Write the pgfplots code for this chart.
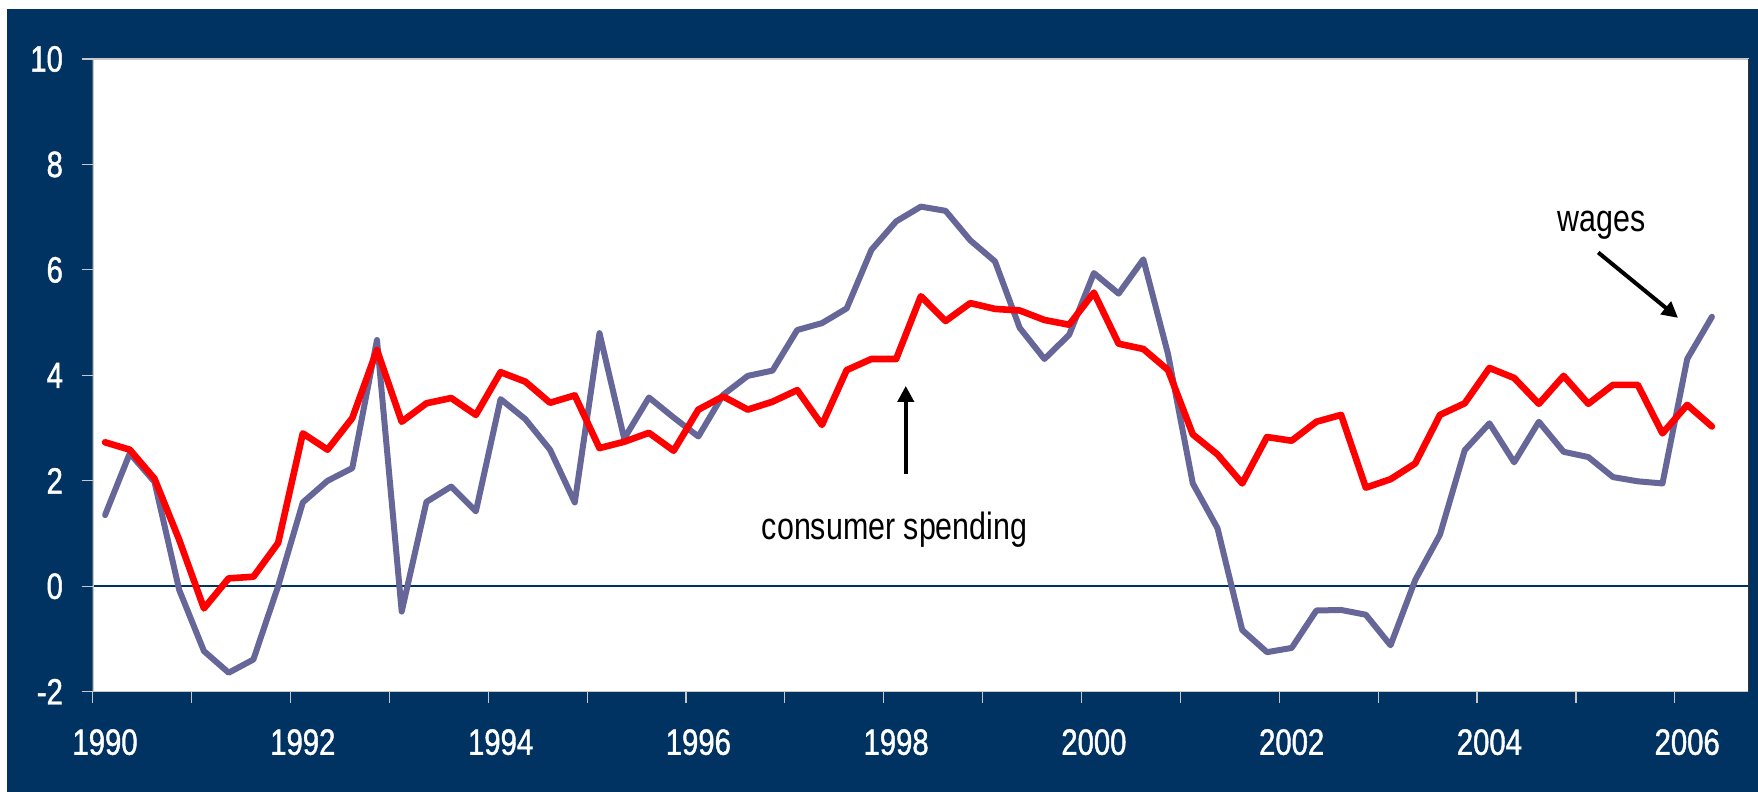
\documentclass[border=0pt]{standalone}
\usepackage{fontspec}
\setmainfont[FakeStretch=0.8]{Liberation Sans}
\newfontfamily\tickfont[FakeStretch=0.8, FakeBold=1.2]{Liberation Sans}
\usepackage{pgfplots}
\usepackage{pgfplotstable}
\pgfplotsset{compat=1.18}
\usetikzlibrary{arrows.meta}
\definecolor{navy}{RGB}{0,51,98}
\definecolor{wagecol}{RGB}{102,102,153}
\definecolor{spendred}{RGB}{255,0,0}
\definecolor{tickgray}{RGB}{200,200,200}

\pgfplotstableread{
i wages spend
0 1.35 2.73
1 2.52 2.59
2 1.98 2.04
3 -0.07 0.88
4 -1.23 -0.42
5 -1.64 0.15
6 -1.39 0.18
7 0.00 0.82
8 1.59 2.90
9 2.00 2.59
10 2.24 3.19
11 4.67 4.48
12 -0.48 3.12
13 1.60 3.47
14 1.89 3.57
15 1.42 3.25
16 3.55 4.06
17 3.17 3.88
18 2.59 3.48
19 1.59 3.62
20 4.80 2.62
21 2.80 2.74
22 3.58 2.91
23 3.20 2.57
24 2.84 3.35
25 3.63 3.60
26 3.99 3.35
27 4.09 3.50
28 4.86 3.72
29 4.99 3.06
30 5.27 4.10
31 6.38 4.31
32 6.92 4.31
33 7.20 5.50
34 7.12 5.03
35 6.56 5.37
36 6.16 5.26
37 4.90 5.23
38 4.31 5.05
39 4.77 4.96
40 5.94 5.57
41 5.55 4.60
42 6.20 4.50
43 4.40 4.10
44 1.95 2.88
45 1.10 2.50
46 -0.83 1.95
47 -1.25 2.83
48 -1.17 2.76
49 -0.46 3.12
50 -0.45 3.25
51 -0.54 1.87
52 -1.12 2.03
53 0.12 2.33
54 0.98 3.25
55 2.58 3.47
56 3.09 4.14
57 2.35 3.95
58 3.12 3.46
59 2.55 3.99
60 2.45 3.46
61 2.07 3.82
62 1.99 3.82
63 1.95 2.90
64 4.31 3.44
65 5.11 3.03
}\datatable

\begin{document}
\begin{tikzpicture}
\useasboundingbox (0,0) rectangle (879bp,396bp);
\fill[white] (0,0) rectangle (879bp,396bp);
\fill[navy] (3.5bp,0) rectangle (879bp,391.5bp);
\begin{axis}[
  at={(46.35bp,50.15bp)}, anchor=south west,
  scale only axis, width=828.15bp, height=316.35bp,
  xmin=-0.5, xmax=66.5, ymin=-2, ymax=10,
  axis background/.style={fill=white},
  axis line style={draw=none},
  no markers,
  tick align=outside,
  xtick pos=bottom, ytick pos=left,
  major tick length=5.5bp,
  tick style={tickgray, line width=0.6bp},
  xtick={-0.5,3.5,...,63.5},
  xticklabels={},
  extra x ticks={0,8,...,64},
  extra x tick labels={1990,1992,1994,1996,1998,2000,2002,2004,2006},
  extra x tick style={major tick length=0pt},
  ytick={-2,0,...,10},
  yticklabels={-2,0,2,4,6,8,10},
  extra y ticks={0},
  extra y tick labels={},
  extra y tick style={grid=major, major grid style={navy, line width=1bp}},
  tick label style={font=\tickfont\fontsize{18.3bp}{20bp}\selectfont, text=white},
  xticklabel style={anchor=north, inner sep=0pt, yshift=-18.55bp},
  yticklabel style={anchor=east, inner sep=0pt, xshift=-9.2bp},
]
\addplot[wagecol, line width=3bp, line join=round, line cap=round] table[x=i, y=wages] {\datatable};
\addplot[spendred, line width=3.3bp, line join=round, line cap=round] table[x=i, y=spend] {\datatable};
\draw[tickgray, line width=0.8bp] (rel axis cs:1,1) -- (rel axis cs:0,1) -- (rel axis cs:0,0) -- (rel axis cs:1,0);
\draw[black!80, line width=0.5bp] ([yshift=0.6bp]rel axis cs:0,1) -- ([yshift=0.6bp]rel axis cs:1,1);
\draw[black!80, line width=0.8bp] (rel axis cs:1,1) -- (rel axis cs:1,0);
\node[anchor=base, font=\fontsize{19bp}{22bp}\selectfont] at (axis cs:31.94,0.88) {consumer spending};
\draw[-{Triangle[length=8bp,width=8bp]}, line width=2bp] (axis cs:32.39,2.13) -- (axis cs:32.39,3.8);
\node[anchor=base, font=\fontsize{19bp}{22bp}\selectfont] at (axis cs:60.53,6.73) {wages};
\draw[-{Triangle[length=8bp,width=8bp]}, line width=2bp] (axis cs:60.4,6.33) -- (axis cs:63.63,5.09);
\end{axis}
\end{tikzpicture}
\end{document}
